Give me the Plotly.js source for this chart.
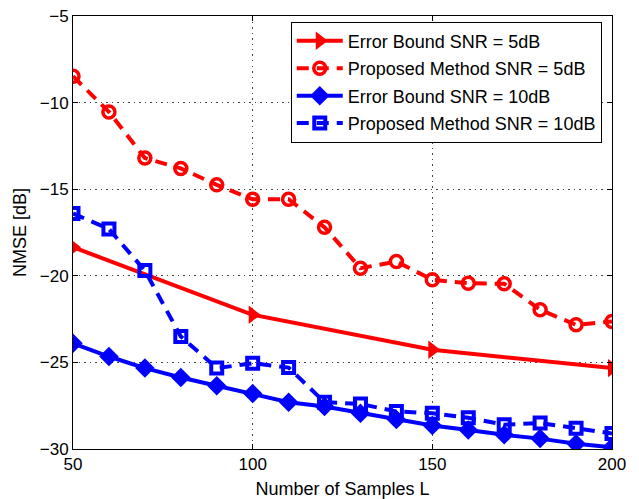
<!DOCTYPE html>
<html>
<head>
<meta charset="utf-8">
<script src="https://cdn.plot.ly/plotly-3.0.1.min.js"></script>
<style>html,body{margin:0;padding:0;background:#fff}#chart{width:639px;height:499px}</style>
</head>
<body>
<div id="chart"></div>
<script>
// Data
const samplesAll = [50, 60, 70, 80, 90, 100, 110, 120, 130, 140, 150, 160, 170, 180, 190, 200];
const samplesBound5 = [50, 100, 150, 200];
const bound5dB = [-18.35, -22.25, -24.27, -25.33];
const proposed5dB = [-8.48, -10.54, -13.2, -13.8, -14.75, -15.58, -15.58, -17.2, -19.56, -19.18, -20.23, -20.43, -20.46, -21.96, -22.83, -22.64];
const bound10dB = [-23.9, -24.66, -25.33, -25.87, -26.35, -26.8, -27.3, -27.55, -27.93, -28.3, -28.64, -28.9, -29.18, -29.4, -29.7, -29.9];
const proposed10dB = [-16.4, -17.3, -19.7, -23.5, -25.33, -25.05, -25.3, -27.3, -27.4, -27.83, -27.93, -28.2, -28.6, -28.5, -28.8, -29.1];
const seriesNames = ['Error Bound SNR = 5dB', 'Proposed Method SNR = 5dB', 'Error Bound SNR = 10dB', 'Proposed Method SNR = 10dB'];
const xTicks = [50, 100, 150, 200];
const yTicks = [-30, -25, -20, -15, -10, -5];

const RED = '#ff0000', BLUE = '#0000ff';
const FONT = 'Liberation Sans, Arial, sans-serif';
const traces = [
  {x: samplesBound5, y: bound5dB, name: seriesNames[0], legendgroup: 'a', mode: 'lines+markers',
   line: {color: RED, width: 4},
   marker: {symbol: 'triangle-right', size: 16, color: RED}},
  {x: samplesAll, y: proposed5dB, name: seriesNames[1], legendgroup: 'b', mode: 'lines+markers',
   line: {color: RED, width: 4, dash: '12px,8px'},
   marker: {symbol: 'circle-open', size: 12, color: RED, line: {width: 3.5, color: RED}}},
  {x: samplesAll, y: bound10dB, name: seriesNames[2], legendgroup: 'c', mode: 'lines+markers',
   line: {color: BLUE, width: 4},
   marker: {symbol: 'diamond', size: 15, color: BLUE}},
  {x: samplesAll, y: proposed10dB, name: seriesNames[3], legendgroup: 'd', mode: 'lines+markers',
   line: {color: BLUE, width: 4, dash: '12px,8px'},
   marker: {symbol: 'square-open', size: 11, color: BLUE, line: {width: 4, color: BLUE}}}
];

const axisCommon = {
  showline: true, linecolor: '#000', linewidth: 1, mirror: 'ticks',
  ticks: 'inside', ticklen: 5, tickcolor: '#000', tickwidth: 1,
  showgrid: true, gridcolor: '#444', gridwidth: 1, griddash: '1.5px,4px',
  zeroline: false, tickfont: {family: FONT, size: 17, color: '#000'}
};

const layout = {
  width: 639, height: 499,
  margin: {l: 72.5, r: 27, t: 16, b: 50},
  paper_bgcolor: '#fff', plot_bgcolor: '#fff',
  showlegend: true,
  xaxis: Object.assign({}, axisCommon, {
    range: [50, 200], tickvals: xTicks,
    title: {text: 'Number of Samples L', standoff: 8, font: {family: FONT, size: 18, color: '#000'}}
  }),
  yaxis: Object.assign({}, axisCommon, {
    range: [-30, -5], tickvals: yTicks,
    title: {text: 'NMSE [dB]', standoff: 8, font: {family: FONT, size: 18, color: '#000'}}
  }),
  legend: {
    x: 0.981, y: 0.987, xanchor: 'right', yanchor: 'top',
    bgcolor: '#fff', bordercolor: '#000', borderwidth: 1,
    traceorder: 'grouped', tracegroupgap: 1, itemwidth: 46,
    font: {family: FONT, size: 18, color: '#000'}
  }
};

Plotly.newPlot('chart', traces, layout, {displayModeBar: false, staticPlot: true});
</script>
</body>
</html>
